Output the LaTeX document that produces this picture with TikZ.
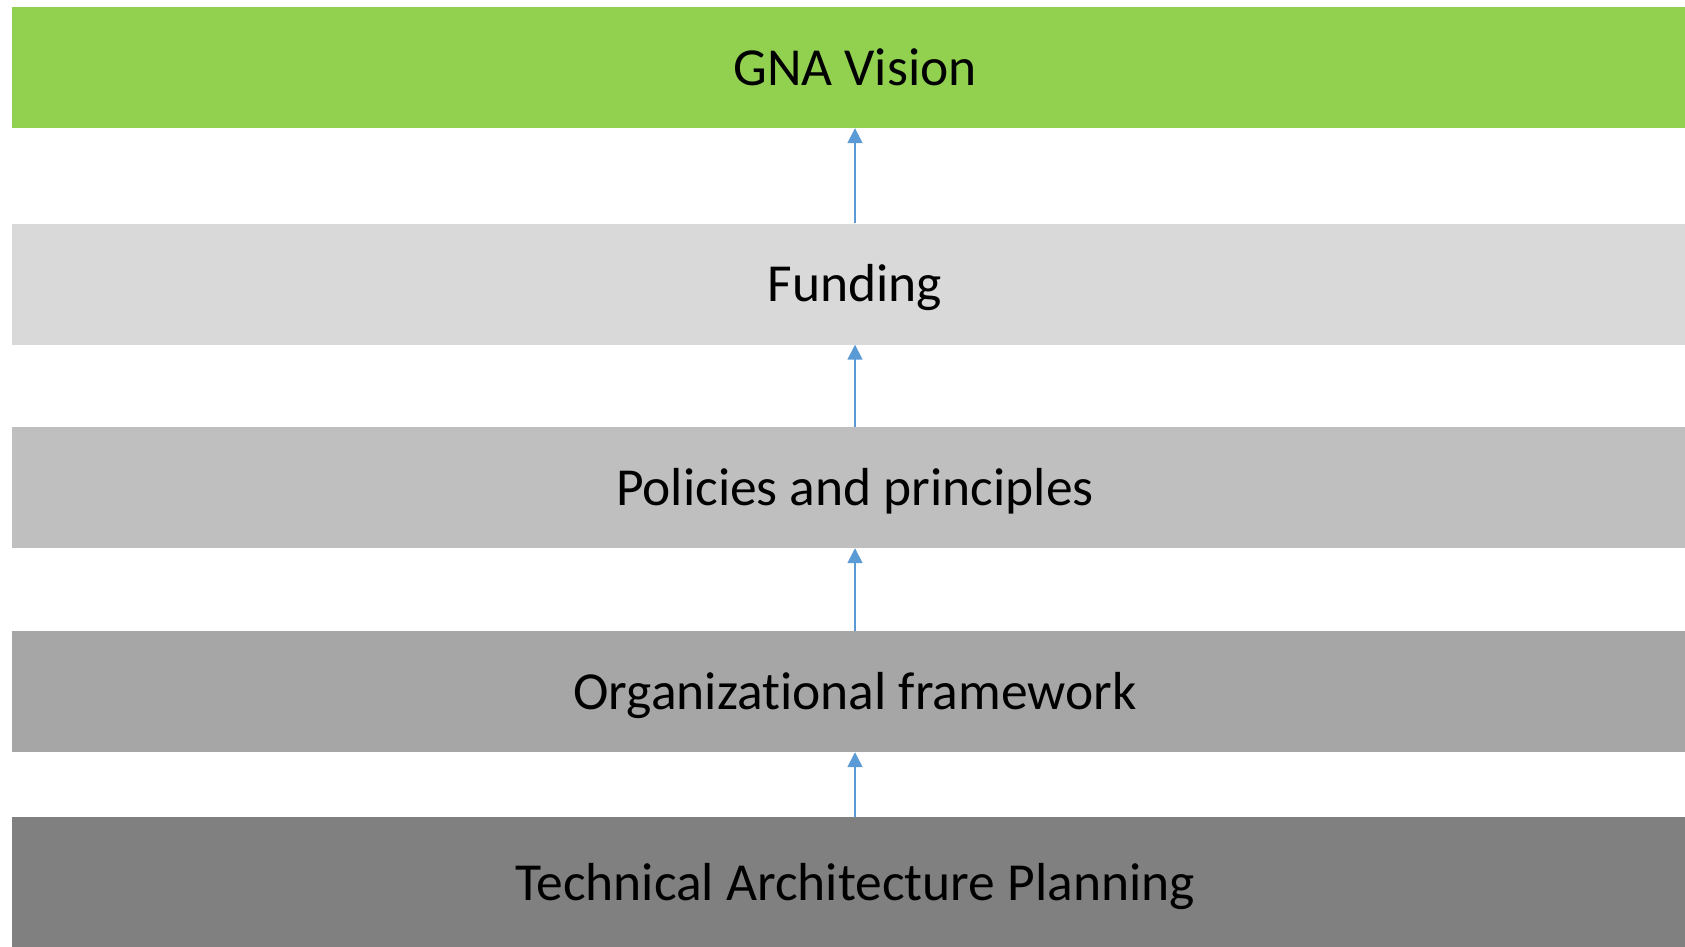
\documentclass[tikz,border=0pt]{standalone}
\usepackage{fontspec}
\setmainfont{Carlito}[RawFeature={-liga;-clig;-calt;-dlig}]
\usepackage{xcolor}
\usetikzlibrary{positioning,arrows.meta}

\definecolor{visiongreen}{HTML}{92D050}
\definecolor{layerA}{HTML}{D9D9D9}
\definecolor{layerB}{HTML}{BFBFBF}
\definecolor{layerC}{HTML}{A6A6A6}
\definecolor{layerD}{HTML}{808080}
\definecolor{linkblue}{HTML}{5B9BD5}

\begin{document}
\begin{tikzpicture}[x=1pt, y=-1pt,
    layer/.style={rectangle, minimum width=1686pt, minimum height=121pt,
        inner sep=0pt, text height=40pt, text depth=5pt,
        font=\fontsize{53.5}{60}\selectfont},
    uplink/.style={draw=linkblue, line width=1.6pt,
        -{Triangle[width=15pt,length=15pt]}}]
    \useasboundingbox (0,0) rectangle (1685,946);

    % Stack of layers, bottom feeds top
    \node[layer, fill=visiongreen] (vision) at (855,67.5) {GNA Vision};
    \node[layer, fill=layerA] (funding) at (855,284) {Funding};
    \node[layer, fill=layerB] (policies) at (855,487.5) {Policies and principles};
    \node[layer, fill=layerC] (org) at (855,691.5) {Organizational framework};
    \node[layer, fill=layerD, minimum height=131pt] (tech) at (855,882.5) {Technical Architecture Planning};

    % Links between layers
    \draw[uplink] (funding.north) -- (vision.south);
    \draw[uplink] (policies.north) -- (funding.south);
    \draw[uplink] (org.north) -- (policies.south);
    \draw[uplink] (tech.north) -- (org.south);
\end{tikzpicture}
\end{document}
